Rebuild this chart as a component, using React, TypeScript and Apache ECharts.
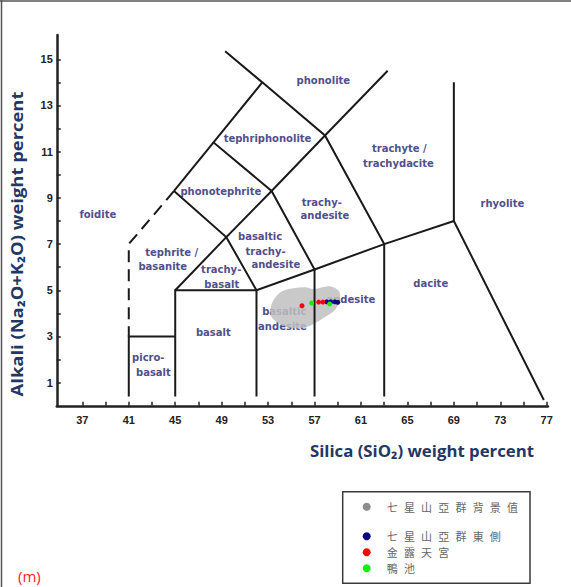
import React, { useEffect, useRef } from "react";
import * as echarts from "echarts";

// Axis ticks and labels
const xTickValues = [37, 39, 41, 43, 45, 47, 49, 51, 53, 55, 57, 59, 61, 63, 65, 67, 69, 71, 73, 75, 77];
const xLabelValues = [37, 41, 45, 49, 53, 57, 61, 65, 69, 73, 77];
const yTickValues = [1, 2, 3, 4, 5, 6, 7, 8, 9, 10, 11, 12, 13, 14, 15];
const yLabelValues = [1, 3, 5, 7, 9, 11, 13, 15];

// TAS field boundaries (SiO2, Na2O+K2O)
const solidBoundaries: [number, number][][] = [
  [[41, 0.4], [41, 3], [45, 3]],
  [[45, 0.4], [45, 5], [52, 5], [57, 5.9], [63, 7], [69, 8], [76.75, 0.25]],
  [[45, 5], [49.4, 7.3], [52, 5], [52, 0.4]],
  [[57, 0.4], [57, 5.9], [53.3, 9.3], [48.3, 11.4], [52.5, 14], [49.3, 15.35]],
  [[44.9, 9.3], [48.3, 11.4]],
  [[44.9, 9.3], [49.4, 7.3], [53.3, 9.3], [57.9, 11.7], [63.3, 14.5]],
  [[52.5, 14], [57.9, 11.7], [63, 7], [63, 0.4]],
  [[69, 8], [69, 14]],
];
const dashedBoundaries: [number, number][][] = [[[44.9, 9.3], [41, 7], [41, 3]]];

// Field names
const fieldLabels: { text: string; at: [number, number] }[] = [
  { text: "phonolite", at: [57.76, 14.07] },
  { text: "tephriphonolite", at: [52.95, 11.58] },
  { text: "phonotephrite", at: [48.93, 9.27] },
  { text: "foidite", at: [38.33, 8.26] },
  { text: "trachyte /", at: [64.3, 11.12] },
  { text: "trachydacite", at: [64.22, 10.5] },
  { text: "rhyolite", at: [73.18, 8.77] },
  { text: "trachy-", at: [57.62, 8.81] },
  { text: "andesite", at: [57.9, 8.25] },
  { text: "tephrite /", at: [44.7, 6.63] },
  { text: "basanite", at: [43.93, 6.05] },
  { text: "trachy-", at: [48.96, 5.88] },
  { text: "basalt", at: [49.01, 5.26] },
  { text: "basaltic", at: [52.31, 7.32] },
  { text: "trachy-", at: [52.78, 6.67] },
  { text: "andesite", at: [53.67, 6.1] },
  { text: "basalt", at: [48.28, 3.18] },
  { text: "picro-", at: [42.68, 2.08] },
  { text: "basalt", at: [43.12, 1.45] },
  { text: "basaltic", at: [54.39, 4.07] },
  { text: "andesite", at: [54.24, 3.45] },
  { text: "andesite", at: [60.13, 4.62] },
  { text: "dacite", at: [67.01, 5.3] },
];

// 七星山亞群背景值 (background field outline)
const backgroundField: [number, number][] = [
  [53.49, 4.59], [54.2, 4.96], [55.35, 5.1], [56.21, 5.13], [56.9, 5.05], [57.6, 5.12],
  [58.3, 5.17], [59.0, 5.02], [59.22, 4.75], [58.85, 4.2], [57.7, 3.78], [56.5, 3.44],
  [55.35, 3.36], [54.2, 3.5], [53.35, 3.8], [53.2, 4.18],
];

// Samples
const eastSide: [number, number][] = [[58.05, 4.5], [58.4, 4.5], [58.75, 4.5], [59.0, 4.48]];
const jinluTemple: [number, number][] = [[55.92, 4.33], [57.35, 4.49], [57.72, 4.49]];
const duckPond: [number, number][] = [[56.75, 4.45], [58.3, 4.41]];

const SP = "\u2002\u200A";
const legendChars = [
  ["七", "星", "山", "亞", "群", "背", "景", "值"],
  ["七", "星", "山", "亞", "群", "東", "側"],
  ["金", "露", "天", "宮"],
  ["鴨", "池"],
];
const legendNames = legendChars.map((c) => c.join(SP));
const legendColors = ["#8c8c8c", "#0a0a80", "#ff0000", "#11ee11"];
const legendRowsY = [506.7, 536.2, 552.2, 568.3];

const labelColor = "#50508c";
const titleColor = "#1f3864";

export default function App() {
  const ref = useRef<HTMLDivElement>(null);
  useEffect(() => {
    if (!ref.current) return;
    const chart = echarts.init(ref.current, undefined, { renderer: "svg" });
    const axisCommon = {
      type: "value" as const,
      splitLine: { show: false },
      axisLine: { show: true, onZero: false, lineStyle: { color: "#222", width: 2.5 } },
    };
    const option: any = {
      animation: false,
      backgroundColor: "#ffffff",
      grid: { left: 56.8, top: 35, width: 491.1, height: 370.8, containLabel: false, outerBoundsMode: "none" },
      xAxis: {
        ...axisCommon,
        min: 34.8,
        max: 77.1,
        axisTick: { show: true, inside: true, length: 4, customValues: xTickValues, lineStyle: { color: "#222", width: 1.5 } },
        axisLabel: {
          customValues: xLabelValues,
          margin: 9,
          color: "#222",
          fontWeight: "bold",
          fontSize: 11,
          fontFamily: "Liberation Sans",
        },
      },
      yAxis: {
        ...axisCommon,
        min: 0,
        max: 16.05,
        axisTick: { show: true, inside: true, length: 4, customValues: yTickValues, lineStyle: { color: "#222", width: 1.5 } },
        axisLabel: {
          customValues: yLabelValues,
          margin: 4,
          color: "#222",
          fontWeight: "bold",
          fontSize: 11,
          fontFamily: "Liberation Sans",
        },
      },
      series: [
        {
          type: "custom",
          name: "fields",
          coordinateSystem: "cartesian2d",
          silent: true,
          z: 1,
          data: fieldLabels.map((f) => [f.at[0], f.at[1]]),
          renderItem: (params: any, api: any) => {
            const f = fieldLabels[params.dataIndex];
            const p = api.coord(f.at);
            return {
              type: "text",
              x: p[0],
              y: p[1],
              style: {
                text: f.text,
                align: "center",
                verticalAlign: "middle",
                fontFamily: "DejaVu Sans",
                fontWeight: "bold",
                fontSize: 10,
                fill: labelColor,
              },
            };
          },
        },
        {
          type: "custom",
          name: legendNames[0],
          coordinateSystem: "cartesian2d",
          silent: true,
          z: 2,
          data: [backgroundField[0]],
          renderItem: (_params: any, api: any) => ({
            type: "polygon",
            shape: { points: backgroundField.map((p) => api.coord(p)), smooth: 0.35 },
            style: { fill: "rgba(192,192,192,0.85)" },
          }),
        },
        {
          type: "lines",
          coordinateSystem: "cartesian2d",
          polyline: true,
          silent: true,
          z: 3,
          data: solidBoundaries.map((c) => ({ coords: c })),
          lineStyle: { color: "#1a1a1a", width: 2, opacity: 1 },
        },
        {
          type: "lines",
          coordinateSystem: "cartesian2d",
          polyline: true,
          silent: true,
          z: 3,
          data: dashedBoundaries.map((c) => ({ coords: c })),
          lineStyle: { color: "#1a1a1a", width: 2, opacity: 1, type: [12, 7] },
        },
        {
          type: "scatter",
          name: legendNames[1],
          z: 4,
          symbolSize: 5,
          data: eastSide,
          itemStyle: { color: legendColors[1], opacity: 1 },
        },
        {
          type: "scatter",
          name: legendNames[2],
          z: 4,
          symbolSize: 5,
          data: jinluTemple,
          itemStyle: { color: legendColors[2], opacity: 1 },
        },
        {
          type: "scatter",
          name: legendNames[3],
          z: 5,
          symbolSize: 5,
          data: duckPond,
          itemStyle: { color: legendColors[3], opacity: 1 },
        },
      ],
      graphic: [
        { type: "line", silent: true, shape: { x1: 0, y1: 1, x2: 571, y2: 1 }, style: { stroke: "#555", lineWidth: 1.5 } },
        { type: "line", silent: true, shape: { x1: 1.5, y1: 0, x2: 1.5, y2: 587 }, style: { stroke: "#555", lineWidth: 1.5 } },
        {
          type: "text",
          x: 17,
          y: 244,
          rotation: Math.PI / 2,
          scaleX: 1.15,
          style: {
            text: "Alkali (Na₂O+K₂O) weight percent",
            align: "center",
            verticalAlign: "middle",
            fontFamily: "Open Sans",
            fontWeight: "bold",
            fontSize: 16,
            fill: titleColor,
          },
        },
        {
          type: "text",
          x: 422,
          y: 451,
          scaleX: 1.05,
          style: {
            text: "Silica (SiO₂) weight percent",
            align: "center",
            verticalAlign: "middle",
            fontFamily: "Open Sans",
            fontWeight: "bold",
            fontSize: 16,
            fill: titleColor,
          },
        },
        {
          type: "text",
          x: 18,
          y: 575.5,
          style: { text: "(m)", verticalAlign: "middle", fontFamily: "Open Sans", fontSize: 15, fill: "#f22" },
        },
        {
          type: "rect",
          shape: { x: 342.7, y: 491.7, width: 187.3, height: 91.6 },
          style: { fill: "#fff", stroke: "#3a3a3a", lineWidth: 1.5 },
        },
        ...legendNames.flatMap((name, i) => [
          {
            type: "circle",
            shape: { cx: 366.7, cy: legendRowsY[i], r: 4 },
            style: { fill: legendColors[i] },
          },
          {
            type: "text",
            x: 386.7,
            y: legendRowsY[i],
            style: {
              text: name,
              verticalAlign: "middle",
              fontFamily: "Noto Sans CJK TC",
              fontSize: 11,
              lineHeight: 12,
              fill: "#666",
            },
          },
        ]),
      ],
    };
    chart.setOption(option);
    return () => chart.dispose();
  }, []);
  return (
    <div
      ref={ref}
      style={{ position: "absolute", left: 0, top: 0, width: 571, height: 587, background: "#fff" }}
    />
  );
}
